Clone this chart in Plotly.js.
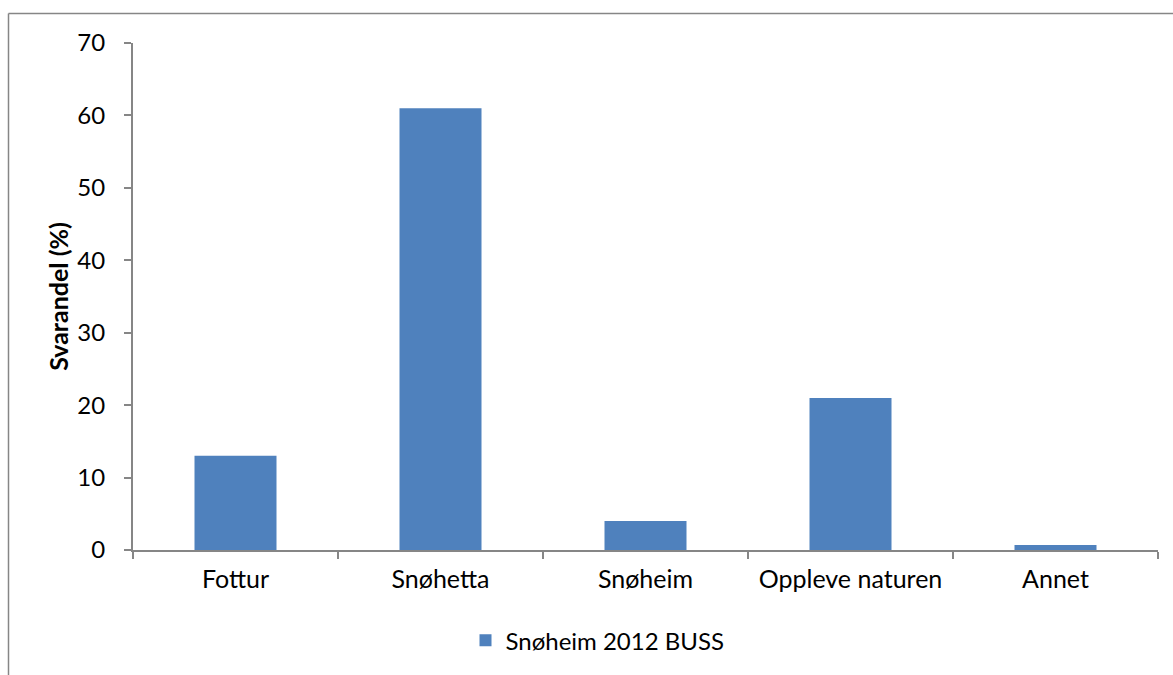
<!DOCTYPE html>
<html>
<head>
<meta charset="utf-8">
<script src="https://cdn.plot.ly/plotly-3.0.1.min.js"></script>
<style>html,body{margin:0;padding:0;background:#fff;}#chart{width:1173px;height:675px;}</style>
</head>
<body>
<div id="chart"></div>
<script>
const categories = ["Fottur", "Snøhetta", "Snøheim", "Oppleve naturen", "Annet"];
const values = [13, 61, 4, 21, 0.7];
const seriesName = "Snøheim 2012 BUSS";
const yTicks = [0, 10, 20, 30, 40, 50, 60, 70];

const W = 1173, H = 675;
const L = 133, R = 15, T = 43, B = 123;
const pw = W - L - R, ph = H - T - B;
const fontFam = "Lato, 'Open Sans', sans-serif";
const fs = 24;
const axisColor = "#868686";

const trace = {
  type: "bar",
  x: categories,
  y: values,
  name: seriesName,
  marker: {color: "#4F81BD"},
  width: 0.4,
  showlegend: true
};

const layout = {
  width: W, height: H,
  margin: {l: L, r: R, t: T, b: B, pad: 0},
  paper_bgcolor: "#fff",
  plot_bgcolor: "#fff",
  font: {family: fontFam, size: fs, color: "#000"},
  showlegend: true,
  legend: {orientation: "h", x: 0.5 - 48 / pw, xanchor: "center", y: (552 - 643) / ph, yanchor: "middle",
           font: {family: fontFam, size: fs, color: "#000"}, itemwidth: 30},
  xaxis: {
    type: "category",
    showline: true, linecolor: axisColor, linewidth: 2,
    ticks: "outside", tickson: "boundaries", ticklen: 7, tickcolor: axisColor, tickwidth: 2,
    showgrid: false, zeroline: false,
    tickfont: {family: fontFam, size: 25, color: "#000"},
    ticklabelstandoff: 6
  },
  yaxis: {
    range: [0, 70],
    tickvals: yTicks,
    showline: true, linecolor: axisColor, linewidth: 2,
    ticks: "outside", ticklen: 7, tickcolor: axisColor, tickwidth: 2,
    showgrid: false, zeroline: false,
    tickfont: {family: fontFam, size: fs, color: "#000"},
    ticklabelstandoff: 14,
    title: {text: "<b>Svarandel (%)</b>", font: {family: fontFam, size: 25, color: "#000"}, standoff: 2}
  },
  shapes: [
    {type: "line", xref: "paper", yref: "paper",
     x0: (8.5 - L) / pw, x1: (8.5 - L) / pw, y0: (552 - 13.5) / ph, y1: (552 - 700) / ph,
     line: {color: axisColor, width: 1.5}},
    {type: "line", xref: "paper", yref: "paper",
     x0: (8.5 - L) / pw, x1: (1200 - L) / pw, y0: (552 - 13.5) / ph, y1: (552 - 13.5) / ph,
     line: {color: axisColor, width: 1.5}}
  ],
  bargap: 0.6
};

Plotly.newPlot("chart", [trace], layout, {displayModeBar: false, staticPlot: true});
</script>
</body>
</html>
